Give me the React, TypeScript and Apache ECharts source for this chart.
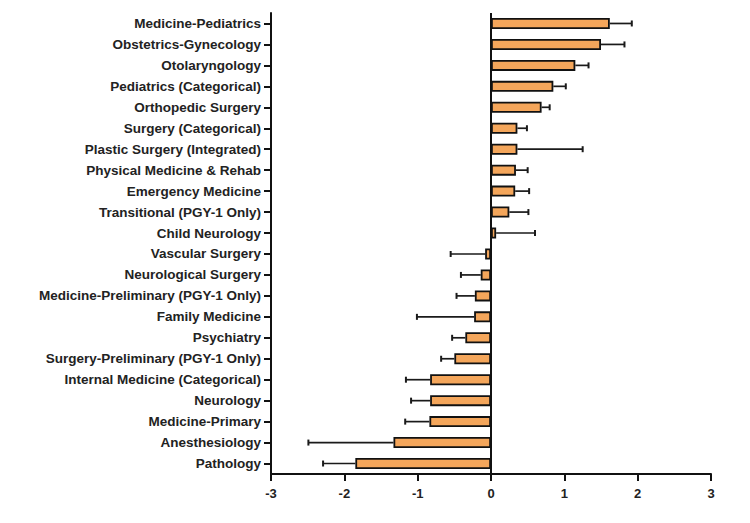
import React, { useEffect, useRef } from "react";
import * as echarts from "echarts";

const categories = [
  "Medicine-Pediatrics",
  "Obstetrics-Gynecology",
  "Otolaryngology",
  "Pediatrics (Categorical)",
  "Orthopedic Surgery",
  "Surgery (Categorical)",
  "Plastic Surgery (Integrated)",
  "Physical Medicine & Rehab",
  "Emergency Medicine",
  "Transitional (PGY-1 Only)",
  "Child Neurology",
  "Vascular Surgery",
  "Neurological Surgery",
  "Medicine-Preliminary (PGY-1 Only)",
  "Family Medicine",
  "Psychiatry",
  "Surgery-Preliminary (PGY-1 Only)",
  "Internal Medicine (Categorical)",
  "Neurology",
  "Medicine-Primary",
  "Anesthesiology",
  "Pathology",
];

const values = [
  1.62, 1.5, 1.15, 0.85, 0.69, 0.36, 0.36, 0.34, 0.33, 0.25, 0.07, -0.08,
  -0.14, -0.22, -0.23, -0.35, -0.5, -0.83, -0.83, -0.84, -1.33, -1.85,
];

const errorEnds = [
  1.92, 1.82, 1.33, 1.02, 0.8, 0.49, 1.25, 0.5, 0.52, 0.51, 0.6, -0.55,
  -0.41, -0.47, -1.01, -0.53, -0.68, -1.16, -1.09, -1.17, -2.49, -2.29,
];

const xTicks = [-3, -2, -1, 0, 1, 2, 3];

export default function App() {
  const ref = useRef<HTMLDivElement>(null);

  useEffect(() => {
    if (!ref.current) return;
    const chart = echarts.init(ref.current, undefined, { renderer: "svg" });
    const font = "'Liberation Sans', Arial, Helvetica, sans-serif";
    chart.setOption({
      animation: false,
      backgroundColor: "#ffffff",
      grid: { left: 271, right: 39, top: 13, bottom: 49, containLabel: false },
      xAxis: {
        type: "value",
        min: xTicks[0],
        max: xTicks[xTicks.length - 1],
        interval: 1,
        axisLine: { show: true, lineStyle: { color: "#111", width: 2 } },
        axisTick: { show: true, length: 7, lineStyle: { color: "#111", width: 2 } },
        axisLabel: {
          color: "#222",
          fontFamily: font,
          fontWeight: "bold",
          fontSize: 13,
          margin: 13,
        },
        splitLine: { show: false },
      },
      yAxis: {
        type: "category",
        data: categories,
        inverse: true,
        axisLine: { show: true, onZero: false, lineStyle: { color: "#111", width: 2 } },
        axisTick: {
          show: true,
          length: 7,
          alignWithLabel: true,
          lineStyle: { color: "#111", width: 2 },
        },
        axisLabel: {
          color: "#222",
          fontFamily: font,
          fontWeight: "bold",
          fontSize: 13.5,
          margin: 10,
        },
        splitLine: { show: false },
      },
      series: [
        {
          type: "bar",
          data: values,
          barWidth: 11,
          itemStyle: { color: "#F4A65B", borderColor: "#111", borderWidth: 1.8 },
          markLine: {
            silent: true,
            symbol: "none",
            label: { show: false },
            lineStyle: { color: "#111", width: 2, type: "solid" },
            data: [{ xAxis: 0 }],
          },
          z: 2,
        },
        {
          type: "custom",
          data: categories.map((_, i) => [i, values[i], errorEnds[i]]),
          encode: { x: [1, 2], y: 0 },
          renderItem: (params: any, api: any) => {
            const idx = api.value(0);
            const start = api.coord([api.value(1), idx]);
            const end = api.coord([api.value(2), idx]);
            const cap = 3;
            return {
              type: "group",
              children: [
                {
                  type: "line",
                  shape: { x1: start[0], y1: start[1], x2: end[0], y2: end[1] },
                  style: { stroke: "#1a1a1a", lineWidth: 1.7 },
                },
                {
                  type: "line",
                  shape: { x1: end[0], y1: end[1] - cap, x2: end[0], y2: end[1] + cap },
                  style: { stroke: "#1a1a1a", lineWidth: 2 },
                },
              ],
            };
          },
          z: 1,
        },
      ],
    });
    return () => chart.dispose();
  }, []);

  return (
    <div
      ref={ref}
      style={{ position: "absolute", left: 0, top: 0, width: 750, height: 523 }}
    />
  );
}
